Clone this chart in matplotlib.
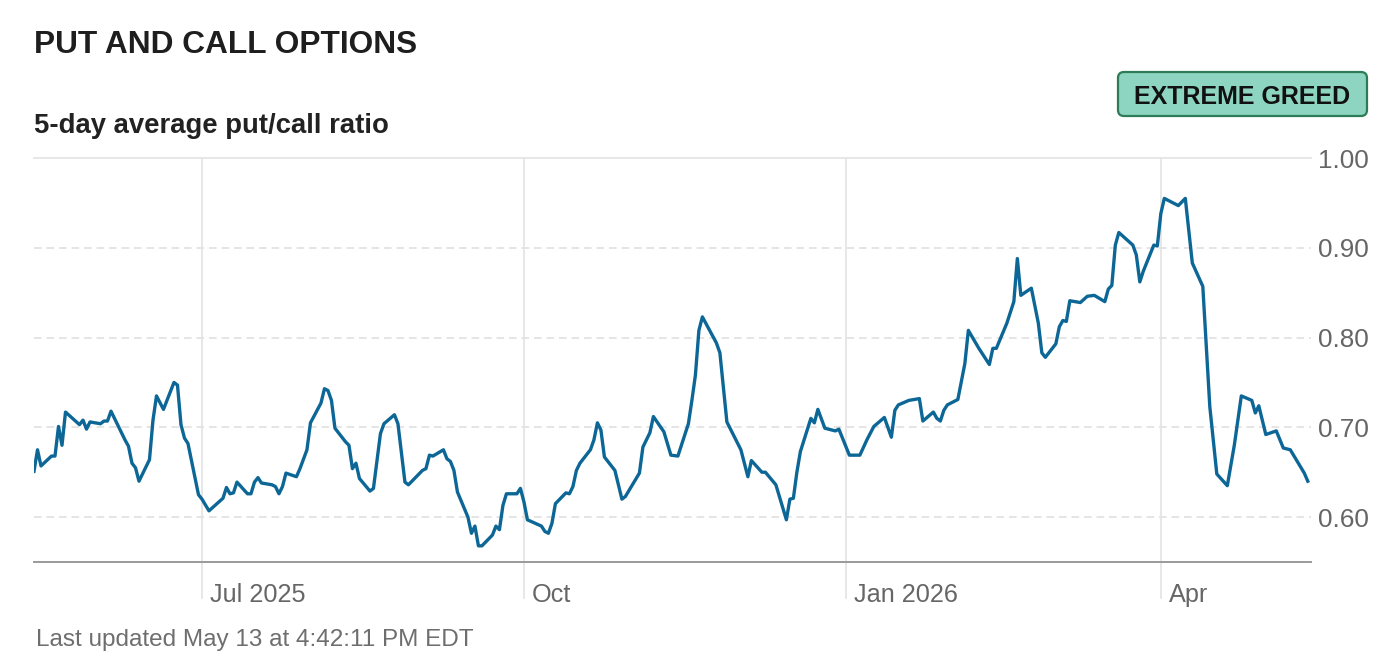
import matplotlib
matplotlib.use("Agg")
import matplotlib.pyplot as plt
import pandas as pd
from matplotlib.patches import FancyBboxPatch
from matplotlib.transforms import IdentityTransform

# ---------------- data ----------------
dates = [
"2025-05-14","2025-05-15","2025-05-16","2025-05-19","2025-05-20","2025-05-21","2025-05-22","2025-05-23",
"2025-05-27","2025-05-28","2025-05-29","2025-05-30","2025-06-02","2025-06-03","2025-06-04","2025-06-05",
"2025-06-09","2025-06-10","2025-06-11","2025-06-12","2025-06-13","2025-06-16","2025-06-17","2025-06-18",
"2025-06-20","2025-06-23","2025-06-24","2025-06-25","2025-06-26","2025-06-27","2025-06-30","2025-07-01",
"2025-07-03","2025-07-07","2025-07-08","2025-07-09","2025-07-10","2025-07-11","2025-07-14","2025-07-15",
"2025-07-16","2025-07-17","2025-07-18","2025-07-21","2025-07-22","2025-07-23","2025-07-24","2025-07-25",
"2025-07-28","2025-07-29","2025-07-31","2025-08-01","2025-08-04","2025-08-05","2025-08-06","2025-08-07",
"2025-08-08","2025-08-11","2025-08-12","2025-08-13","2025-08-14","2025-08-15","2025-08-18","2025-08-19",
"2025-08-21","2025-08-22","2025-08-25","2025-08-26","2025-08-28","2025-08-29","2025-09-02","2025-09-03",
"2025-09-04","2025-09-05","2025-09-08","2025-09-09","2025-09-10","2025-09-11","2025-09-12","2025-09-15",
"2025-09-16","2025-09-17","2025-09-18","2025-09-19","2025-09-22","2025-09-23","2025-09-24","2025-09-25",
"2025-09-26","2025-09-29","2025-09-30","2025-10-01","2025-10-02","2025-10-06","2025-10-07","2025-10-08",
"2025-10-09","2025-10-10","2025-10-13","2025-10-14","2025-10-15","2025-10-16","2025-10-17","2025-10-20",
"2025-10-21","2025-10-22","2025-10-23","2025-10-24","2025-10-27","2025-10-29","2025-10-30","2025-11-03",
"2025-11-04","2025-11-06","2025-11-07","2025-11-10","2025-11-12","2025-11-14","2025-11-17","2025-11-18",
"2025-11-19","2025-11-20","2025-11-21","2025-11-25","2025-11-26","2025-11-28","2025-12-02","2025-12-04",
"2025-12-05","2025-12-08","2025-12-09","2025-12-12","2025-12-15","2025-12-16","2025-12-17","2025-12-18",
"2025-12-19","2025-12-22","2025-12-23","2025-12-24","2025-12-26","2025-12-29","2025-12-30","2026-01-02",
"2026-01-05","2026-01-07","2026-01-09","2026-01-12","2026-01-14","2026-01-15","2026-01-16","2026-01-19",
"2026-01-22","2026-01-23","2026-01-26","2026-01-27","2026-01-28","2026-01-29","2026-01-30","2026-02-02",
"2026-02-04","2026-02-05","2026-02-08","2026-02-11","2026-02-12","2026-02-13","2026-02-16","2026-02-18",
"2026-02-19","2026-02-20","2026-02-23","2026-02-25","2026-02-26","2026-02-27","2026-03-02","2026-03-03",
"2026-03-04","2026-03-05","2026-03-06","2026-03-09","2026-03-11","2026-03-13","2026-03-16","2026-03-17",
"2026-03-18","2026-03-19","2026-03-20","2026-03-24","2026-03-25","2026-03-26","2026-03-27","2026-03-30",
"2026-03-31","2026-04-01","2026-04-02","2026-04-06","2026-04-08","2026-04-10","2026-04-13","2026-04-15",
"2026-04-17","2026-04-20","2026-04-22","2026-04-24","2026-04-27","2026-04-28","2026-04-29","2026-05-01",
"2026-05-04","2026-05-06","2026-05-08","2026-05-12","2026-05-13"]

ratio = [
0.651,0.675,0.657,0.668,0.668,0.701,0.680,0.717,
0.703,0.708,0.698,0.706,0.704,0.707,0.707,0.718,
0.686,0.679,0.660,0.655,0.640,0.664,0.708,0.735,
0.720,0.750,0.747,0.703,0.688,0.682,0.625,0.620,
0.607,0.621,0.633,0.626,0.627,0.639,0.626,0.626,
0.639,0.644,0.638,0.636,0.634,0.626,0.634,0.649,
0.645,0.654,0.675,0.705,0.727,0.743,0.741,0.730,
0.699,0.684,0.680,0.654,0.660,0.643,0.629,0.632,
0.693,0.704,0.714,0.704,0.639,0.636,0.652,0.654,
0.669,0.668,0.675,0.665,0.662,0.652,0.628,0.600,
0.582,0.590,0.568,0.568,0.580,0.590,0.586,0.613,
0.626,0.626,0.632,0.617,0.597,0.590,0.584,0.582,
0.593,0.615,0.627,0.626,0.634,0.652,0.660,0.675,
0.686,0.705,0.697,0.667,0.652,0.620,0.623,0.649,
0.678,0.694,0.712,0.695,0.669,0.668,0.704,0.730,
0.758,0.808,0.823,0.794,0.783,0.706,0.675,0.645,
0.663,0.650,0.650,0.636,0.597,0.620,0.621,0.650,
0.673,0.710,0.705,0.720,0.699,0.696,0.698,0.669,
0.669,0.686,0.701,0.711,0.689,0.719,0.725,0.730,
0.732,0.707,0.717,0.710,0.707,0.719,0.725,0.731,
0.771,0.808,0.788,0.770,0.788,0.788,0.816,0.840,
0.888,0.847,0.855,0.816,0.783,0.778,0.793,0.812,
0.819,0.818,0.841,0.839,0.846,0.847,0.840,0.854,
0.858,0.903,0.917,0.903,0.892,0.862,0.874,0.903,
0.902,0.938,0.955,0.947,0.955,0.883,0.857,0.723,
0.648,0.635,0.680,0.735,0.730,0.716,0.724,0.692,
0.696,0.677,0.675,0.649,0.640]

month_ticks = ["2025-07-01", "2025-10-01", "2026-01-01", "2026-04-01"]
month_labels = ["Jul 2025", "Oct", "Jan 2026", "Apr"]
y_ticks = [0.60, 0.70, 0.80, 0.90, 1.00]

title = "PUT AND CALL OPTIONS"
subtitle = "5-day average put/call ratio"
badge_text = "EXTREME GREED"
footer = "Last updated May 13 at 4:42:11 PM EDT"

# ---------------- style ----------------
W, H = 1392, 657
LINE = "#0d6796"
GRID = "#e3e3e3"
TXT_GREY = "#666666"
plt.rcParams["font.family"] = ["Liberation Sans", "DejaVu Sans"]
plt.rcParams["lines.scale_dashes"] = False

fig = plt.figure(figsize=(W / 100, H / 100), dpi=100)
fig.patch.set_facecolor("white")

ax_l, ax_r, ax_t, ax_b = 34, 1311, 158, 562
ax = fig.add_axes([ax_l / W, (H - ax_b) / H, (ax_r - ax_l) / W, (ax_b - ax_t) / H])

x = pd.to_datetime(dates)
ax.set_xlim(pd.Timestamp("2025-05-14"), pd.Timestamp("2026-05-13 22:00"))
ax.set_ylim(0.55, 1.0)

# grid
for yv in y_ticks:
    if yv >= 0.999:
        ax.axhline(yv, color=GRID, lw=1.2, zorder=0, clip_on=False)
    else:
        ax.axhline(yv, color=GRID, lw=1.3, zorder=0, dashes=(5.5, 3.5))
ext = (598 - ax_b) / (ax_b - ax_t)
for d, lab in zip(month_ticks, month_labels):
    dt = pd.Timestamp(d)
    ax.axvline(dt, ymin=-ext, ymax=1, color=GRID, lw=1.2, zorder=0, clip_on=False)
    ax.annotate(lab, xy=(dt, 0), xycoords=("data", "axes fraction"),
                xytext=(8 * 0.72, -40 * 0.72), textcoords="offset points",
                ha="left", va="baseline", fontsize=18.2, color=TXT_GREY)

ax.plot(x, ratio, color=LINE, lw=2.4, solid_joinstyle="round", zorder=3)

for s in ["top", "left", "right"]:
    ax.spines[s].set_visible(False)
ax.spines["bottom"].set_color("#9a9a9a")
ax.spines["bottom"].set_linewidth(1.4)
ax.set_xticks([])
ax.yaxis.tick_right()
ax.set_yticks(y_ticks)
ax.set_yticklabels([f"{v:.2f}" for v in y_ticks])
ax.tick_params(axis="y", length=0, pad=5, labelsize=18.8, labelcolor=TXT_GREY)

# texts
fig.text(34 / W, (H - 53) / H, title, fontsize=22.8, fontweight="bold",
         color="#1e1e1e", va="baseline", ha="left")
fig.text(34 / W, (H - 133) / H, subtitle, fontsize=19.8, fontweight="bold",
         color="#222222", va="baseline", ha="left")
fig.text(36 / W, (H - 646) / H, footer, fontsize=17.5, color="#6e6e6e",
         va="baseline", ha="left")

# badge
badge = FancyBboxPatch((1118, H - 116), 249, 44,
                       boxstyle="round,pad=0,rounding_size=6",
                       transform=IdentityTransform(), facecolor="#8dd5c1",
                       edgecolor="#2e7b57", linewidth=1.6)
fig.add_artist(badge)
fig.text(1242.5 / W, (H - 104) / H, badge_text, fontsize=18, fontweight="bold",
         color="#111111", ha="center", va="baseline")

fig.savefig("out.png", dpi=100, facecolor="white")
